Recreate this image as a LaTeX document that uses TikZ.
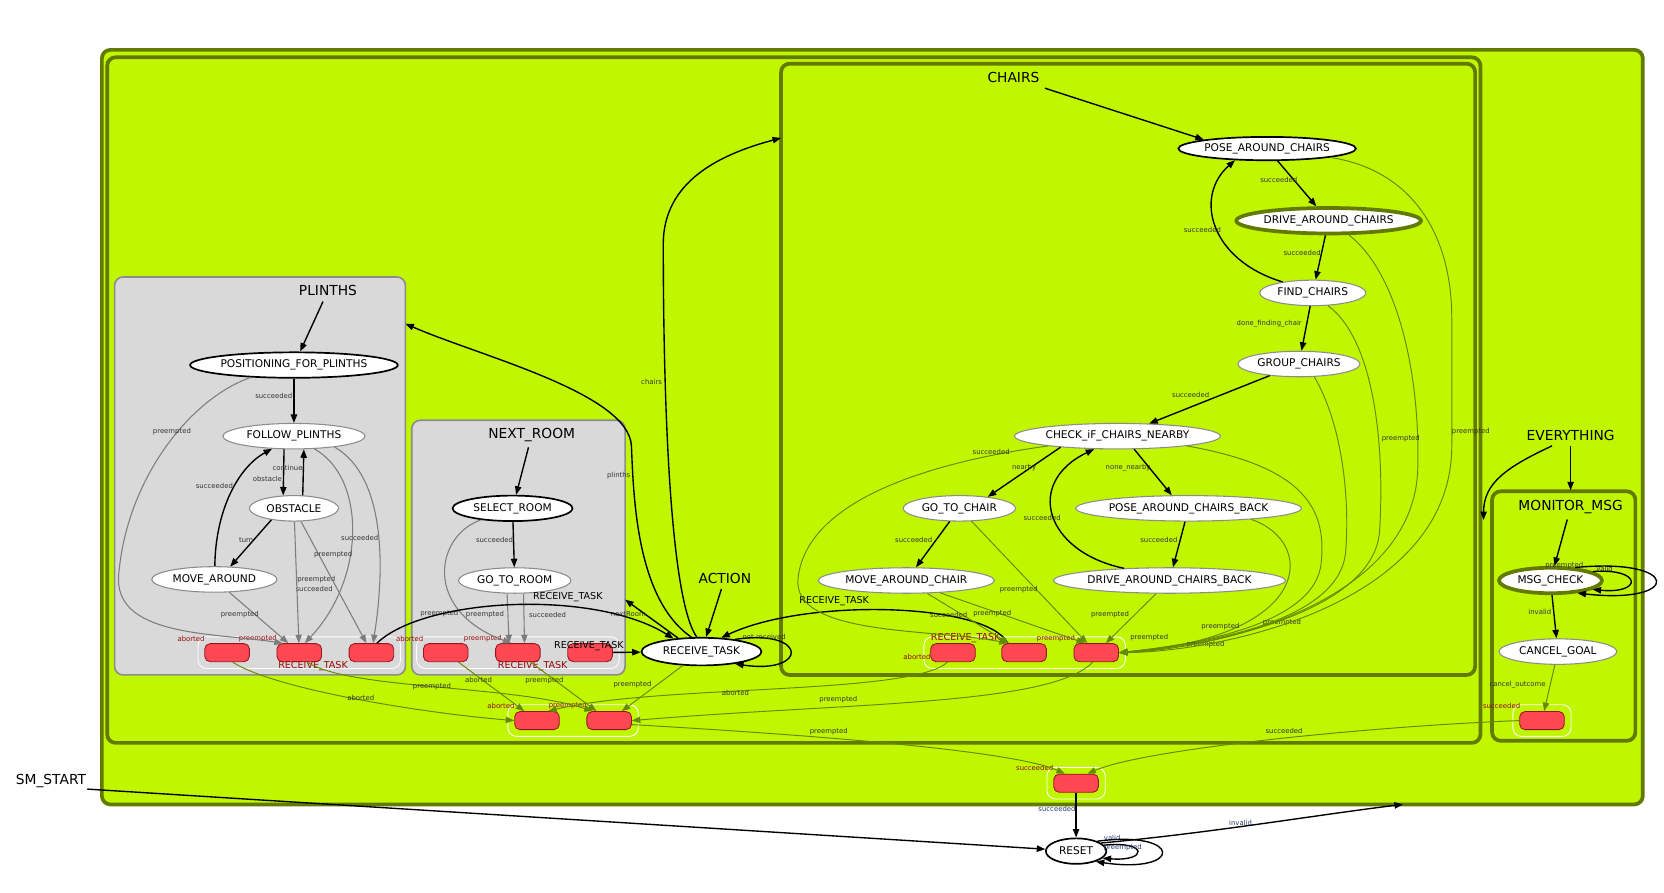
\documentclass[tikz,border=0pt]{standalone}
\usepackage{fontspec}
\setmainfont{DejaVu Sans}
\usetikzlibrary{arrows.meta, shapes.geometric, positioning, fit, calc}

\definecolor{limefill}{RGB}{192,246,0}
\definecolor{olivedark}{RGB}{98,122,0}
\definecolor{olivearc}{RGB}{100,138,0}
\definecolor{boxgrey}{RGB}{217,217,217}
\definecolor{boxedge}{RGB}{140,140,140}
\definecolor{arcgrey}{RGB}{125,125,125}
\definecolor{outred}{RGB}{255,72,82}
\definecolor{outborder}{RGB}{150,20,30}
\definecolor{outtext}{RGB}{150,10,10}
\definecolor{lblnavy}{RGB}{40,60,110}

\newcommand{\stfont}{\fontsize{10}{12}\selectfont}
\newcommand{\arcfont}{\fontsize{6.5}{8}\selectfont}
\newcommand{\ttlfont}{\fontsize{13}{15}\selectfont}
\newcommand{\midfont}{\fontsize{9}{11}\selectfont}

\tikzset{
  statenode/.style={
    ellipse, inner sep=0pt, minimum height=24pt,
    draw=boxedge, line width=1pt, fill=white,
    font=\stfont, text=black
  },
  initnode/.style={statenode, draw=black, line width=1.6pt},
  activenode/.style={statenode, draw=olivedark, line width=3.5pt},
  clusterbox/.style={
    rectangle, rounded corners=8pt, inner sep=0pt,
    draw=olivedark, line width=3.5pt, fill=limefill
  },
  greybox/.style={
    rectangle, rounded corners=8pt, inner sep=0pt,
    draw=boxedge, line width=1.5pt, fill=boxgrey
  },
  outcomebox/.style={
    rectangle, rounded corners=5pt, inner sep=0pt,
    minimum width=42pt, minimum height=17pt,
    draw=outborder, line width=0.8pt, fill=outred
  },
  outcomeframe/.style={
    rectangle, rounded corners=8pt, inner sep=6pt,
    draw=white, line width=0.8pt
  },
  boxtitle/.style={font=\ttlfont, text=black, inner sep=5pt},
  arclbl/.style={font=\arcfont, text=black!80, inner sep=0pt},
  bigarclbl/.style={font=\midfont, text=black, inner sep=0pt},
  outcomelbl/.style={font=\arcfont, text=outtext, inner sep=0pt},
  transarrow/.style={-{Triangle[length=8pt,width=6pt]}, line width=1.3pt, black},
  greyarrow/.style={-{Triangle[length=8pt,width=6pt]}, line width=1pt, arcgrey},
  olivearrow/.style={-{Triangle[length=8pt,width=6pt]}, line width=0.9pt, olivearc},
}

\begin{document}
\begin{tikzpicture}[x=1pt, y=-1pt]
\useasboundingbox (0,0) rectangle (1568,841);
\fill[white] (0,0) rectangle (1568,841);

% containers
\node[clusterbox, fit={(96,47) (1548,758)}] (everything) {};
\node[clusterbox, fit={(101,54) (1395,700)}] (action) {};
\node[clusterbox, fit={(736,60) (1390,636)}] (chairs) {};
\node[clusterbox, fit={(1406,463) (1541,698)}] (monitor) {};
\node[greybox, fit={(108,261) (382,636)}] (plinths) {};
\node[greybox, fit={(388,396) (589,636)}] (nextroom) {};

\node[boxtitle] (plinthsT) at (309,274) {PLINTHS};
\node[boxtitle] (nextT) at (501,410) {NEXT\_ROOM};
\node[boxtitle] (actionT) at (683,545) {ACTION};
\node[boxtitle] (chairsT) at (955,73) {CHAIRS};
\node[boxtitle] (everythingT) at (1480,410) {EVERYTHING};
\node[boxtitle] (monitorT) at (1480,478) {MONITOR\_MSG};
\node[boxtitle, inner sep=1pt] (smstart) at (48,736) {SM\_START};

\coordinate (plinthsIn) at (382,305);
\coordinate (chairsIn) at (736,130);
\coordinate (nextIn) at (589,565);
\coordinate (actionIn) at (1398,490);
\coordinate (monitorIn) at (1480,462);
\coordinate (everyIn) at (1322,758);

% outcomes
\node[outcomebox] (pa) at (214,615) {};
\node[outcomebox] (pb) at (282,615) {};
\node[outcomebox] (pc) at (350,615) {};
\node[outcomeframe, fit=(pa)(pc)] (pframe) {};
\node[outcomebox] (na) at (420,615) {};
\node[outcomebox] (nb) at (488,615) {};
\node[outcomebox] (nc) at (556,615) {};
\node[outcomeframe, fit=(na)(nc)] (nframe) {};
\node[outcomebox] (ca) at (898,615) {};
\node[outcomebox] (cb) at (965,615) {};
\node[outcomebox] (cc) at (1033,615) {};
\node[outcomeframe, fit=(ca)(cc)] (cframe) {};
\node[outcomebox] (aa) at (506,679) {};
\node[outcomebox] (ab) at (574,679) {};
\node[outcomeframe, fit=(aa)(ab)] (aframe) {};
\node[outcomebox] (ma) at (1453,679) {};
\node[outcomeframe, fit=(ma)] (mframe) {};
\node[outcomebox] (ea) at (1014,738) {};
\node[outcomeframe, fit=(ea)] (eframe) {};

\node[outcomelbl] (paL) at (180,602) {aborted};
\node[outcomelbl] (pbL) at (243,602) {preempted};
\node[outcomelbl, font=\midfont] (pcL) at (295,628) {RECEIVE\_TASK};
\node[outcomelbl] (naL) at (386,602) {aborted};
\node[outcomelbl] (nbL) at (455,602) {preempted};
\node[outcomelbl, font=\midfont] (ncL) at (502,628) {RECEIVE\_TASK};
\node[outcomelbl] (caL) at (864,619) {aborted};
\node[outcomelbl, font=\midfont] (cbL) at (910,601) {RECEIVE\_TASK};
\node[outcomelbl] (ccL) at (995,602) {preempted};
\node[outcomelbl] (aaL) at (472,665) {aborted};
\node[outcomelbl] (abL) at (535,665) {preempted};
\node[outcomelbl] (maL) at (1415,665) {succeeded};
\node[outcomelbl] (eaL) at (975,724) {succeeded};

% states
\node[initnode, minimum width=194pt] (posplinths) at (277,344) {POSITIONING\_FOR\_PLINTHS};
\node[statenode, minimum width=134pt] (follow) at (277,411) {FOLLOW\_PLINTHS};
\node[statenode, minimum width=84pt] (obstacle) at (277,479) {OBSTACLE};
\node[statenode, minimum width=118pt] (movearound) at (202,546) {MOVE\_AROUND};
\node[initnode, minimum width=113pt] (selectroom) at (483,479) {SELECT\_ROOM};
\node[statenode, minimum width=106pt] (gotoroom) at (485,547) {GO\_TO\_ROOM};
\node[initnode, minimum width=113pt, minimum height=26pt] (receive) at (661,614) {RECEIVE\_TASK};
\node[initnode, minimum width=166pt, minimum height=22pt] (posechairs) at (1194,140) {POSE\_AROUND\_CHAIRS};
\node[activenode, minimum width=174pt] (drivechairs) at (1252,208) {DRIVE\_AROUND\_CHAIRS};
\node[statenode, minimum width=100pt] (findchairs) at (1237,276) {FIND\_CHAIRS};
\node[statenode, minimum width=115pt] (groupchairs) at (1224,343) {GROUP\_CHAIRS};
\node[statenode, minimum width=194pt] (checknear) at (1053,411) {CHECK\_iF\_CHAIRS\_NEARBY};
\node[statenode, minimum width=106pt] (gotochair) at (904,479) {GO\_TO\_CHAIR};
\node[statenode, minimum width=209pt] (poseback) at (1120,479) {POSE\_AROUND\_CHAIRS\_BACK};
\node[statenode, minimum width=166pt] (movechair) at (854,547) {MOVE\_AROUND\_CHAIR};
\node[statenode, minimum width=218pt] (driveback) at (1102,547) {DRIVE\_AROUND\_CHAIRS\_BACK};
\node[activenode, minimum width=97pt] (msgcheck) at (1461,547) {MSG\_CHECK};
\node[statenode, minimum width=111pt] (cancelgoal) at (1468,614) {CANCEL\_GOAL};
\node[initnode, minimum width=57pt] (reset) at (1014,802) {RESET};

% PLINTHS
\draw[transarrow] (plinthsT) -- (posplinths);
\draw[transarrow] (posplinths) -- (follow) node[arclbl] at (258,373) {succeeded};
\draw[transarrow] (follow.233) -- (obstacle.130) node[arclbl] at (252,451) {obstacle};
\draw[transarrow] (obstacle.56) -- (follow.307) node[arclbl] at (271,441) {continue};
\draw[transarrow] (obstacle.207) -- (movearound.39) node[arclbl] at (232,509) {turn};
\draw[transarrow] (movearound.88) .. controls (203,480) and (225,440) .. (follow.210) node[arclbl] at (202,458) {succeeded};
\draw[greyarrow] (posplinths.196) .. controls (180,375) and (120,450) .. (112,540) .. controls (105,600) and (200,596) .. (pb.150) node[arclbl] at (162,407) {preempted};
\draw[greyarrow] (follow.-32) .. controls (345,450) and (345,545) .. (pb.60) node[arclbl] at (296,555) {succeeded};
\draw[greyarrow] (follow.-15) .. controls (365,450) and (362,540) .. (pc.80) node[arclbl] at (339,507) {succeeded};
\draw[greyarrow] (obstacle) -- (pb) node[arclbl] at (298,546) {preempted};
\draw[greyarrow] (obstacle) -- (pc) node[arclbl] at (314,523) {preempted};
\draw[greyarrow] (movearound) -- (pb) node[arclbl] at (226,579) {preempted};

% NEXT_ROOM
\draw[transarrow] (nextT) -- (selectroom);
\draw[transarrow] (selectroom) -- (gotoroom) node[arclbl] at (466,509) {succeeded};
\draw[greyarrow] (selectroom.200) .. controls (410,505) and (398,575) .. (nb.125) node[arclbl] at (414,578) {preempted};
\draw[greyarrow] (gotoroom.240) -- (nb.133) node[arclbl] at (457,579) {preempted};
\draw[greyarrow] (gotoroom.-56) -- (nb.55) node[arclbl] at (516,579) {succeeded};

% ACTION
\draw[transarrow] (actionT) -- (receive);
\draw[transarrow] (receive.125) .. controls (600,565) and (597,470) .. (595,420) .. controls (592,370) and (450,335) .. (plinthsIn) node[arclbl] at (583,448) {plinths};
\draw[transarrow] (receive.108) .. controls (628,560) and (625,330) .. (625,230) .. controls (625,170) and (680,145) .. (chairsIn) node[arclbl] at (614,360) {chairs};
\draw[transarrow] (receive.150) -- (nextIn) node[arclbl] at (592,579) {nextRoom};
\draw[transarrow] (receive.20) .. controls (762,592) and (762,636) .. (receive.-20) node[arclbl] at (720,600) {not received};
\draw[transarrow] (pc.60) .. controls (400,563) and (560,555) .. (receive.155) node[bigarclbl] at (535,563) {RECEIVE\_TASK};
\draw[transarrow] (nc) -- (receive) node[bigarclbl] at (555,609) {RECEIVE\_TASK};
\draw[transarrow] (cb.150) .. controls (930,568) and (760,563) .. (receive.35) node[bigarclbl] at (786,566) {RECEIVE\_TASK};
\draw[olivearrow] (pa.-60) .. controls (260,650) and (400,672) .. (aa.west) node[arclbl] at (340,658) {aborted};
\draw[olivearrow] (pb.-50) .. controls (330,650) and (480,645) .. (ab.150) node[arclbl] at (407,647) {preempted};
\draw[olivearrow] (na) -- (aa) node[arclbl] at (451,641) {aborted};
\draw[olivearrow] (nb) -- (ab) node[arclbl] at (513,641) {preempted};
\draw[olivearrow] (receive) -- (ab) node[arclbl] at (596,645) {preempted};
\draw[olivearrow] (ca.-120) .. controls (860,655) and (620,645) .. (aa.40) node[arclbl] at (693,653) {aborted};
\draw[olivearrow] (cc.-110) .. controls (990,665) and (800,662) .. (ab.east) node[arclbl] at (790,659) {preempted};

% CHAIRS
\draw[transarrow] (chairsT.south east) -- (posechairs.172);
\draw[transarrow] (posechairs) -- (drivechairs) node[arclbl] at (1205,170) {succeeded};
\draw[transarrow] (drivechairs) -- (findchairs) node[arclbl] at (1227,238) {succeeded};
\draw[transarrow] (findchairs.160) .. controls (1140,245) and (1125,185) .. (posechairs.200) node[arclbl] at (1133,217) {succeeded};
\draw[transarrow] (findchairs) -- (groupchairs) node[arclbl] at (1196,305) {done\_finding\_chair};
\draw[transarrow] (groupchairs) -- (checknear) node[arclbl] at (1122,372) {succeeded};
\draw[transarrow] (checknear.191) -- (gotochair.22) node[arclbl] at (965,441) {nearby};
\draw[transarrow] (checknear.-38) -- (poseback.142) node[arclbl] at (1063,441) {none\_nearby};
\draw[transarrow] (gotochair) -- (movechair) node[arclbl] at (861,509) {succeeded};
\draw[transarrow] (poseback) -- (driveback) node[arclbl] at (1092,509) {succeeded};
\draw[transarrow] (driveback.165) .. controls (985,520) and (965,455) .. (checknear.209) node[arclbl] at (982,488) {succeeded};
\draw[olivearrow] (gotochair) -- (cc) node[arclbl] at (960,556) {preempted};
\draw[olivearrow] (movechair) -- (cb) node[arclbl] at (894,579) {succeeded};
\draw[olivearrow] (movechair.-20) -- (cc.140) node[arclbl] at (935,578) {preempted};
\draw[olivearrow] (driveback) -- (cc) node[arclbl] at (1046,579) {preempted};
\draw[olivearrow] (checknear.188) .. controls (880,435) and (760,470) .. (752,545) .. controls (746,600) and (880,592) .. (cb.150) node[arclbl] at (934,426) {succeeded};
\draw[olivearrow] (poseback.-10) .. controls (1240,510) and (1240,600) .. (cc.east) node[arclbl] at (1150,590) {preempted};
\draw[olivearrow] (checknear.-8) .. controls (1230,440) and (1250,480) .. (1245,530) .. controls (1240,590) and (1120,608) .. (cc.east) node[arclbl] at (1208,587) {preempted};
\draw[olivearrow] (groupchairs.-40) .. controls (1265,400) and (1272,470) .. (1268,520) .. controls (1262,590) and (1120,608) .. (cc.east) node[arclbl] at (1136,607) {preempted};
\draw[olivearrow] (findchairs.-40) .. controls (1295,320) and (1305,420) .. (1300,500) .. controls (1295,580) and (1130,610) .. (cc.east) node[arclbl] at (1083,601) {preempted};
\draw[olivearrow] (drivechairs.-35) .. controls (1320,260) and (1338,360) .. (1336,440) .. controls (1334,570) and (1140,612) .. (cc.east) node[arclbl] at (1320,413) {preempted};
\draw[olivearrow] (posechairs.-8) .. controls (1330,160) and (1368,220) .. (1368,300) -- (1368,420) .. controls (1368,570) and (1150,614) .. (cc.east) node[arclbl] at (1386,407) {preempted};

% EVERYTHING / MONITOR_MSG
\draw[transarrow] (everythingT.-150) .. controls (1420,440) and (1398,455) .. (actionIn);
\draw[transarrow] (everythingT) -- (monitorIn);
\draw[transarrow] (monitorT) -- (msgcheck);
\draw[transarrow] (msgcheck) -- (cancelgoal) node[arclbl] at (1451,577) {invalid};
\draw[transarrow] (msgcheck.12) .. controls (1548,535) and (1548,560) .. (msgcheck.-12) node[arclbl] at (1512,536) {valid};
\draw[transarrow] (msgcheck.28) .. controls (1585,525) and (1585,570) .. (msgcheck.-25) node[arclbl] at (1474,533) {preempted};
\draw[olivearrow] (cancelgoal) -- (ma) node[arclbl] at (1430,645) {cancel\_outcome};
\draw[olivearrow] (ab.-10) .. controls (720,690) and (950,705) .. (ea.140) node[arclbl] at (781,689) {preempted};
\draw[olivearrow] (ma.west) .. controls (1300,684) and (1080,705) .. (ea.40) node[arclbl] at (1210,689) {succeeded};

% RESET
\draw[transarrow] (ea) -- (reset) node[arclbl, text=lblnavy] at (996,762) {succeeded};
\draw[transarrow] (smstart.south east) -- (reset);
\draw[transarrow] (reset.12) .. controls (1082,792) and (1082,812) .. (reset.-15) node[arclbl, text=lblnavy] at (1048,790) {valid};
\draw[transarrow] (reset.25) .. controls (1115,782) and (1115,824) .. (reset.-28) node[arclbl, text=lblnavy] at (1058,799) {preempted};
\draw[transarrow] (reset.18) .. controls (1140,785) and (1240,768) .. (everyIn) node[arclbl, text=lblnavy] at (1169,775) {invalid};
\end{tikzpicture}
\end{document}
